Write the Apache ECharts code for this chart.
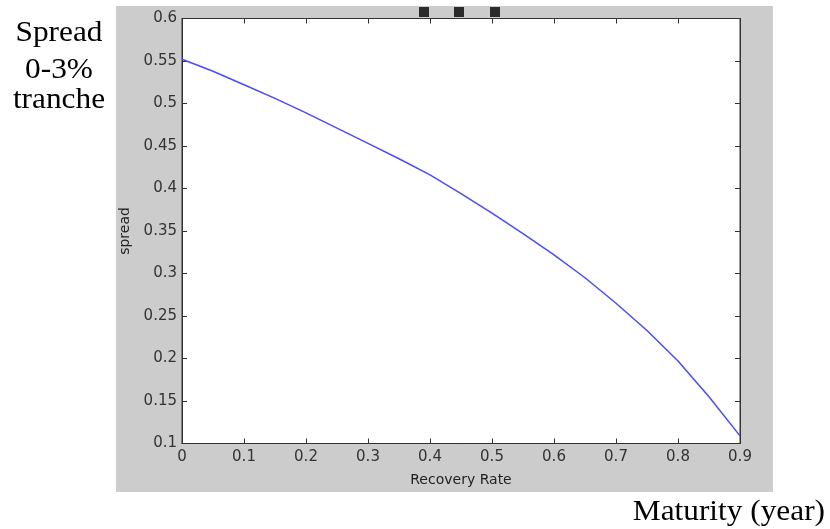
<!DOCTYPE html>
<html>
<head>
<meta charset="utf-8">
<script src="https://cdn.jsdelivr.net/npm/echarts@6/dist/echarts.min.js"></script>
<style>
    html, body {margin: 0; padding: 0; background: #fff;}
    #main {width: 830px; height: 529px;}
</style>
</head>
<body>
<div id="main"></div>
<script>
// recovery rate (x) and spread of the 0-3% tranche (y)
var recoveryRate = [0, 0.05, 0.1, 0.15, 0.2, 0.25, 0.3, 0.35, 0.4, 0.45, 0.5, 0.55, 0.6, 0.65, 0.7, 0.75, 0.8, 0.85, 0.9];
var spreadValues = [0.552, 0.538, 0.522, 0.506, 0.489, 0.471, 0.453, 0.435, 0.416, 0.394, 0.371, 0.347, 0.322, 0.295, 0.265, 0.233, 0.197, 0.155, 0.109];

var axisColor = '#333';
var labelFont = 'DejaVu Sans';
var serifFont = '29px "Liberation Serif"';

// serif caption placed outside the plot, slightly stretched like the scan
function caption(text, x, y, align) {
    return {
        type: 'text', x: x, y: y, scaleX: 1.08,
        style: {text: text, x: 0, y: 0, textAlign: align, textVerticalAlign: 'bottom', font: serifFont, fill: '#000'}
    };
}

~function () {
    var myChart = echarts.init(document.getElementById('main'));

    var points = [];
    for (var i = 0; i < recoveryRate.length; i++) {
        points.push([recoveryRate[i], spreadValues[i]]);
    }

    // mirrored axes on top / right: ticks only
    var mirrorX = {
        type: 'value', position: 'top', min: 0, max: 0.9, interval: 0.1,
        axisLine: {show: true, onZero: false, lineStyle: {color: axisColor, width: 1}},
        axisTick: {show: true, inside: true, length: 5, lineStyle: {color: axisColor}},
        axisLabel: {show: false},
        splitLine: {show: false}
    };
    var mirrorY = {
        type: 'value', position: 'right', min: 0.1, max: 0.6, interval: 0.05,
        axisLine: {show: true, onZero: false, lineStyle: {color: axisColor, width: 1}},
        axisTick: {show: true, inside: true, length: 5, lineStyle: {color: axisColor}},
        axisLabel: {show: false},
        splitLine: {show: false}
    };

    var option = {
        animation: false,
        backgroundColor: '#fff',
        graphic: [
            {type: 'rect', z: -10, shape: {x: 116, y: 6, width: 657, height: 486}, style: {fill: '#cccccc'}},
            {type: 'rect', shape: {x: 419, y: 7, width: 10, height: 10}, style: {fill: '#2b2b2b'}},
            {type: 'rect', shape: {x: 454, y: 7, width: 10, height: 10}, style: {fill: '#2b2b2b'}},
            {type: 'rect', shape: {x: 490, y: 7, width: 10, height: 10}, style: {fill: '#2b2b2b'}},
            caption('Spread', 59, 48, 'center'),
            caption('0-3%', 59, 85, 'center'),
            caption('tranche', 59, 115, 'center'),
            caption('Maturity (year)', 825, 527, 'right')
        ],
        grid: {
            left: 182, top: 18.5, right: 90, bottom: 85.5,
            show: true, backgroundColor: '#fff', borderColor: axisColor, borderWidth: 1
        },
        xAxis: [
            {
                type: 'value', position: 'bottom', min: 0, max: 0.9, interval: 0.1,
                name: 'Recovery Rate', nameLocation: 'middle', nameGap: 30,
                nameTextStyle: {fontFamily: labelFont, fontSize: 14, color: '#222'},
                axisLine: {show: true, onZero: false, lineStyle: {color: axisColor, width: 1}},
                axisTick: {show: true, inside: true, length: 5, lineStyle: {color: axisColor}},
                axisLabel: {fontFamily: labelFont, fontSize: 15, color: '#333', margin: 6},
                splitLine: {show: false}
            },
            mirrorX
        ],
        yAxis: [
            {
                type: 'value', position: 'left', min: 0.1, max: 0.6, interval: 0.05,
                name: 'spread', nameLocation: 'middle', nameGap: 50, nameRotate: 90,
                nameTextStyle: {fontFamily: labelFont, fontSize: 14, color: '#222'},
                axisLine: {show: true, onZero: false, lineStyle: {color: axisColor, width: 1}},
                axisTick: {show: true, inside: true, length: 5, lineStyle: {color: axisColor}},
                axisLabel: {fontFamily: labelFont, fontSize: 15, color: '#333', margin: 5},
                splitLine: {show: false}
            },
            mirrorY
        ],
        series: [
            {
                name: 'spread',
                type: 'line',
                xAxisIndex: 0,
                yAxisIndex: 0,
                data: points,
                showSymbol: false,
                lineStyle: {color: '#4a4aff', width: 1.5}
            }
        ]
    };
    myChart.setOption(option);
}();
</script>
</body>
</html>
